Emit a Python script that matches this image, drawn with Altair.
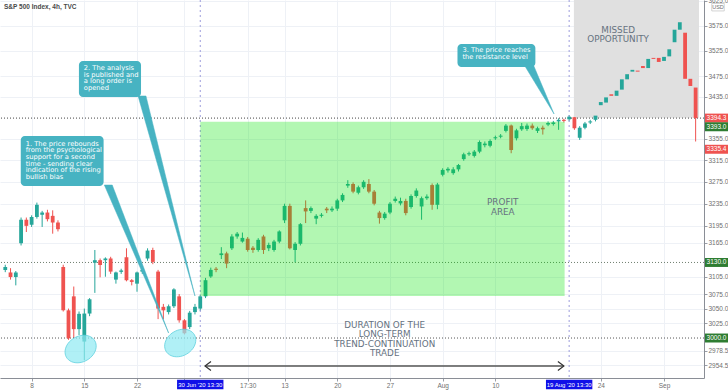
import math
import altair as alt
import pandas as pd

# ---------------- candle data (4h bars, bar index 0 = 8 Jun 13:30) ----------------
FIRST_BAR = -5
opens = [3117, 3112.5, 3104.5, 3164, 3206, 3197, 3211, 3215, 3219, 3213, 3201, 3122, 3047, 3071, 3015,
         2994, 3041.5, 3129.5, 3134, 3134, 3137, 3100, 3113.5, 3139, 3099, 3093, 3114, 3137, 3152,
         3114, 3053, 3044, 3054, 3071, 3030, 3018.5, 3044, 3050, 3071, 3105.5, 3119, 3143, 3146,
         3155, 3176, 3167, 3172, 3156, 3152, 3176, 3155, 3152, 3167, 3205, 3231, 3152, 3163, 3227,
         3222, 3208, 3213, 3226, 3223, 3226, 3241, 3268, 3271, 3255, 3265, 3271, 3257, 3219, 3209,
         3219, 3240, 3235.5, 3240, 3229, 3249, 3230, 3245, 3269, 3233, 3288, 3296, 3291, 3298, 3317,
         3326, 3323, 3331, 3343, 3342, 3356, 3359, 3370, 3380, 3356, 3373, 3373.5, 3380, 3370, 3376,
         3382, 3383, 3388, 3391, 3392, 3396, 3357, 3376, 3386, 3391, 3419, 3424, 3440, 3437, 3449,
         3469, 3484, 3486, 3495, 3491, 3511, 3511, 3505, 3514, 3542, 3567, 3561, 3470, 3453]
highs = [3126, 3120, 3115, 3210, 3210, 3214, 3237, 3222, 3224, 3223, 3205, 3126, 3050, 3088, 3045,
         3050, 3068, 3152, 3137, 3139, 3140, 3114, 3119, 3155, 3101, 3114, 3121, 3155, 3156,
         3117, 3058, 3057, 3085, 3075, 3032, 3046, 3058, 3074, 3103, 3121, 3122, 3157, 3149,
         3180, 3184, 3183, 3175, 3159, 3173, 3179, 3165, 3170, 3187, 3235, 3235, 3166, 3200, 3241,
         3230, 3216, 3218, 3229, 3230, 3244, 3254, 3278, 3274, 3268, 3278, 3280, 3260, 3222, 3220,
         3238, 3248, 3246, 3244, 3252, 3263, 3248, 3252, 3272, 3273, 3300, 3302, 3302, 3308, 3329,
         3331, 3334, 3352, 3350, 3354, 3361, 3364, 3383, 3382, 3374, 3385, 3384, 3384, 3378, 3380,
         3388, 3389, 3394, 3393, 3400, 3399, 3379, 3387, 3391, 3402, 3428, 3437, 3443, 3450, 3472,
         3482, 3497, 3490, 3499, 3512, 3514, 3514, 3516, 3531, 3570, 3588, 3566, 3472, 3482]
lows = [3113, 3100, 3090, 3160, 3184, 3193, 3208, 3193, 3203, 3181, 3185, 3045, 2997, 3000, 3005,
        2963, 3037, 3077, 3104, 3105, 3110, 3093, 3110, 3097, 3090, 3079, 3110, 3133, 3127,
        3032, 3032, 3040, 3051, 3026, 3006, 3015, 3040, 3046, 3068, 3103, 3113, 3136, 3120,
        3152, 3172, 3165, 3149, 3147, 3149, 3145, 3150, 3149, 3164, 3200, 3153, 3130, 3160, 3200,
        3218, 3198, 3210, 3218, 3220, 3222, 3238, 3264, 3254, 3252, 3262, 3254, 3232, 3199, 3206,
        3216, 3237, 3232, 3214, 3226, 3246, 3206, 3242, 3224, 3225, 3285, 3292, 3288, 3294, 3314,
        3323, 3320, 3328, 3339, 3339, 3353, 3356, 3367, 3328, 3352, 3370, 3370, 3372, 3366, 3363,
        3379, 3380, 3372, 3386, 3388, 3372, 3353, 3373, 3383, 3388, 3416, 3421, 3434, 3434, 3446,
        3466, 3467, 3480, 3487, 3488, 3505, 3499, 3497, 3511, 3538, 3564, 3447, 3430, 3350]
closes = [3122, 3104.5, 3112.5, 3206, 3195, 3211, 3233, 3219, 3207, 3201, 3189, 3047, 2999.5, 3015, 3041,
          3041.5, 3066, 3134, 3125.5, 3137, 3114, 3112.5, 3116, 3099, 3096, 3112.5, 3117, 3151, 3131,
          3050, 3047, 3054, 3083, 3030, 3008, 3043, 3053, 3071, 3099, 3117, 3117, 3146, 3128,
          3176, 3181, 3173.5, 3152, 3152, 3170, 3152, 3161, 3167, 3185, 3231, 3155, 3163, 3198, 3221,
          3227, 3213, 3215, 3223, 3226, 3241, 3251, 3271, 3257, 3265, 3275, 3257, 3235, 3209, 3217,
          3235, 3244, 3240, 3218, 3249, 3259, 3245, 3248, 3233, 3270, 3297, 3299, 3298, 3306, 3326,
          3328, 3331, 3349, 3346, 3351, 3358, 3361, 3380, 3334, 3371, 3379, 3380, 3375, 3375, 3373,
          3385, 3386, 3391, 3389, 3397, 3375, 3376, 3384, 3388, 3399, 3425, 3434, 3437, 3447, 3469,
          3479, 3487.5, 3484, 3491, 3509, 3509, 3503, 3513, 3528, 3567, 3582, 3470, 3456, 3394.3]

# ---------------- axes ----------------
x_tick_bars = [0, 10, 20, 29, 41, 48, 58, 68, 78, 88, 108, 120]
x_tick_labels = ["8", "15", "22", "17:30", "17:30", "13", "20", "27", "Aug", "10", "24", "Sep"]
y_tick_values = [2954.5, 2978.5, 3025, 3050, 3075, 3105, 3165, 3195, 3235, 3275,
                 3315, 3355, 3435, 3475, 3525, 3575, 3625]
x_domain = [-5.05, 126.64]
y_domain = [2933.4, 3627.0]

# ---------------- annotations (bar index / price anchored) ----------------
entry_bar, exit_bar = 32, 102
profit_bars = [32, 101.14]
profit_prices = [3071.6, 3387.3]
missed_bars = [102.9, 126.64]
missed_prices = [3395.0, 3627.0]
level_prices = [3394.3, 3130.0, 3000.0]
level_colors = ["#444444", "#6f7f6f", "#555555"]
ellipse_bars = [9.3, 28.2]
ellipse_prices = [2981.5, 2991.6]

callout_texts = [
    "1. The price rebounds\nfrom the psychological\nsupport for a second\ntime - sending clear\nindication of the rising\nbullish bias",
    "2. The analysis\nis published and\na long order is\nopened",
    "3. The price reaches\nthe resistance level",
]
callout_bar_left = [-2.06, 8.98, 80.81]
callout_bar_right = [13.66, 20.76, 95.59]
callout_price_top = [3360.3, 3504.9, 3538.5]
callout_price_bottom = [3267.3, 3434.7, 3493.1]
callout_text_bar = [-1.12, 9.91, 81.74]
callout_text_price = [3351.8, 3497.0, 3532.1]
# callout pointers: triangle corners (base left, base right, tip)
tail_id = [1, 1, 1, 2, 2, 2, 3, 3, 3]
tail_order = [0, 1, 2, 0, 1, 2, 0, 1, 2]
tail_bar = [13.8, 15.3, 26.0, 20.2, 21.7, 31.0, 93.6, 95.3, 99.14]
tail_price = [3269.1, 3269.1, 3008.4, 3436.7, 3436.7, 3071.6, 3495.0, 3495.0, 3402.1]

area_texts = ["MISSED", "OPPORTUNITY", "PROFIT", "AREA", "DURATION OF THE", "LONG-TERM",
              "TREND-CONTINUATION", "TRADE"]
area_text_bars = [111.3, 111.3, 89.4, 89.4, 67.0, 67.0, 67.0, 67.0]
area_text_prices = [3567.4, 3548.4, 3237.2, 3219.9, 3022.0, 3006.7, 2989.9, 2974.8]

arrow_bars = [32.9, 101.0]
arrow_price = 2953.2

price_label_values = [3394.3, 3335.4, 3130.0, 3000.0]
price_label_colors = ["#ef5350", "#ef5350", "#2e7d32", "#2e7d32"]
shifted_label_value = 3393.0
date_label_bars = [32, 102]
date_label_texts = ["30 Jun '20   13:30", "19 Aug '20   13:30"]

UP, DOWN = "#26a69a", "#ef5350"
CALLOUT = "#47b3c2"
AREA_TXT = "#66727f"

# ---------------- build ----------------
candles = pd.DataFrame({"bar": list(range(FIRST_BAR, FIRST_BAR + len(opens))),
                        "open": opens, "high": highs, "low": lows, "close": closes})

xs = alt.Scale(domain=x_domain, nice=False, zero=False)
ys = alt.Scale(type="log", domain=y_domain, nice=False, zero=False)

label_expr = " : ".join(f"datum.value == {b} ? '{l}'" for b, l in zip(x_tick_bars, x_tick_labels)) + " : ''"
x_axis = alt.Axis(values=x_tick_bars, labelExpr=label_expr, grid=True, gridColor="#eef1f6",
                  tickSize=3, tickColor="#9a9ea6", domainColor="#8a8e96", labelColor="#6f6f6f",
                  labelFontSize=6.5, labelFont="Liberation Sans", labelPadding=1, title=None,
                  labelOverlap=False, labelFlush=False)
y_axis = alt.Axis(orient="right", values=y_tick_values, format=".1f", grid=True, gridColor="#eef1f6",
                  tickSize=3, tickColor="#9a9ea6", domainColor="#8a8e96", labelColor="#6f6f6f",
                  labelFontSize=6.5, labelFont="Liberation Sans", labelPadding=1, title=None,
                  labelOverlap=False, labelFlush=False)

def X(field, **kw):
    return alt.X(field, scale=xs, axis=x_axis, **kw)

def Y(field, **kw):
    return alt.Y(field, scale=ys, axis=y_axis, **kw)

# missed opportunity background
missed_df = pd.DataFrame({"b1": [missed_bars[0]], "b2": [missed_bars[1]],
                          "p1": [missed_prices[0]], "p2": [missed_prices[1]]})
missed = alt.Chart(missed_df).mark_rect(color="#e0e0e0").encode(
    x=X("b1:Q"), x2="b2:Q", y=Y("p1:Q"), y2="p2:Q")

levels_df = pd.DataFrame({"price": level_prices, "c": level_colors})
levels = alt.Chart(levels_df).mark_rule(strokeDash=[1, 2], strokeWidth=1).encode(
    y=Y("price:Q"), color=alt.Color("c:N", scale=None))

vlines_df = pd.DataFrame({"bar": [entry_bar, exit_bar]})
vlines = alt.Chart(vlines_df).mark_rule(strokeDash=[2, 3], strokeWidth=1, color="#9c9cdc").encode(
    x=X("bar:Q"))

color_cond = alt.condition("datum.close >= datum.open", alt.value(UP), alt.value(DOWN))
wicks = alt.Chart(candles).mark_rule(strokeWidth=1).encode(
    x=X("bar:Q"), y=Y("low:Q"), y2="high:Q", color=color_cond)
bodies = alt.Chart(candles).mark_bar(size=3.8, orient="vertical").encode(
    x=X("bar:Q"), y=Y("open:Q"), y2="close:Q", color=color_cond)

profit_df = pd.DataFrame({"b1": [profit_bars[0]], "b2": [profit_bars[1]],
                          "p1": [profit_prices[0]], "p2": [profit_prices[1]]})
profit = alt.Chart(profit_df).mark_rect(color="#00e600", opacity=0.3).encode(
    x=X("b1:Q"), x2="b2:Q", y=Y("p1:Q"), y2="p2:Q")

# ellipse shape path (rotated)
pts = []
rot = math.radians(-30)
for k in range(48):
    t = 2 * math.pi * k / 48
    ex, ey = math.cos(t), 0.78 * math.sin(t)
    rx = ex * math.cos(rot) - ey * math.sin(rot)
    ry = ex * math.sin(rot) + ey * math.cos(rot)
    pts.append(f"{rx:.3f},{ry:.3f}")
ellipse_path = "M" + " L".join(pts) + " Z"
ell_df = pd.DataFrame({"bar": ellipse_bars, "price": ellipse_prices})
ellipses = alt.Chart(ell_df).mark_point(shape=ellipse_path, size=1076, filled=True, fill="#8fe9f2",
                                        fillOpacity=0.7, stroke="#5fd0de", strokeWidth=0.8).encode(
    x=X("bar:Q"), y=Y("price:Q"))

area_df = pd.DataFrame({"t": area_texts, "bar": area_text_bars, "price": area_text_prices})
area_text = alt.Chart(area_df).mark_text(font="DejaVu Sans", fontSize=8.8, color=AREA_TXT,
                                         align="center", baseline="middle").encode(
    x=X("bar:Q"), y=Y("price:Q"), text="t:N")

tails_df = pd.DataFrame({"id": tail_id, "k": tail_order, "bar": tail_bar, "price": tail_price})
tails = alt.Chart(tails_df).mark_line(interpolate="linear-closed", fill=CALLOUT, stroke=CALLOUT,
                                      strokeWidth=0.5).encode(
    x=X("bar:Q"), y=Y("price:Q"), order="k:Q", detail="id:N")

box_df = pd.DataFrame({"b1": callout_bar_left, "b2": callout_bar_right,
                       "p1": callout_price_bottom, "p2": callout_price_top})
boxes = alt.Chart(box_df).mark_rect(color=CALLOUT, cornerRadius=4).encode(
    x=X("b1:Q"), x2="b2:Q", y=Y("p1:Q"), y2="p2:Q")

ctext_df = pd.DataFrame({"t": callout_texts, "bar": callout_text_bar, "price": callout_text_price})
ctext = alt.Chart(ctext_df).mark_text(font="DejaVu Sans", fontSize=6.7, lineHeight=6.67, lineBreak="\n",
                                      color="white", align="left", baseline="top").encode(
    x=X("bar:Q"), y=Y("price:Q"), text="t:N")

arrow_df = pd.DataFrame({"b1": [arrow_bars[0]], "b2": [arrow_bars[1]], "price": [arrow_price]})
arrow_line = alt.Chart(arrow_df).mark_rule(color="#555555", strokeWidth=1.5).encode(
    x=X("b1:Q"), x2="b2:Q", y=Y("price:Q"))
head_l = alt.Chart(arrow_df).mark_point(shape="M1.33,-1 L0,0 L1.33,1", size=81, filled=False,
                                        color="#333333", strokeWidth=1.2, opacity=1).encode(
    x=X("b1:Q"), y=Y("price:Q"))
head_r = alt.Chart(arrow_df).mark_point(shape="M-1.33,-1 L0,0 L-1.33,1", size=81, filled=False,
                                        color="#333333", strokeWidth=1.2, opacity=1).encode(
    x=X("b2:Q"), y=Y("price:Q"))

# right-hand price labels
box_path = "M-1,-0.39 L1,-0.39 L1,0.39 L-1,0.39 Z"
pl_df = pd.DataFrame({"price": price_label_values, "c": price_label_colors,
                      "t": [f"{v:.1f}" for v in price_label_values]})
pl_box = alt.Chart(pl_df).mark_point(shape=box_path, size=529, filled=True, opacity=1).encode(
    x=alt.value(716.5), y=Y("price:Q"), color=alt.Color("c:N", scale=None))
pl_txt = alt.Chart(pl_df).mark_text(font="Liberation Sans", fontSize=6.5, color="white",
                                    align="center", baseline="middle").encode(
    x=alt.value(716.5), y=Y("price:Q"), text="t:N")
sh_df = pd.DataFrame({"price": [shifted_label_value], "t": [f"{shifted_label_value:.1f}"]})
sh_box = alt.Chart(sh_df).mark_point(shape=box_path, size=529, filled=True, opacity=1,
                                     color="#2e7d32", yOffset=8).encode(
    x=alt.value(716.5), y=Y("price:Q"))
sh_txt = alt.Chart(sh_df).mark_text(font="Liberation Sans", fontSize=6.5, color="white",
                                    align="center", baseline="middle", yOffset=8).encode(
    x=alt.value(716.5), y=Y("price:Q"), text="t:N")

# date labels under the time axis
dl_df = pd.DataFrame({"bar": date_label_bars, "t": date_label_texts})
dl_box = alt.Chart(dl_df).mark_point(shape="M-1,-0.2 L1,-0.2 L1,0.2 L-1,0.2 Z", size=2150,
                                     filled=True, opacity=1, color="#1010e8").encode(
    x=X("bar:Q"), y=alt.value(384.5))
dl_txt = alt.Chart(dl_df).mark_text(font="Liberation Sans", fontSize=6, color="white",
                                    align="center", baseline="middle").encode(
    x=X("bar:Q"), y=alt.value(384.8), text="t:N")

title_df = pd.DataFrame({"t": ["S&P 500 Index, 4h, TVC"]})
title = alt.Chart(title_df).mark_text(font="Liberation Sans", fontSize=6.5, fontWeight="bold",
                                      color="#4a4a4a", align="left", baseline="middle").encode(
    x=alt.value(4), y=alt.value(7.2), text="t:N")
usd_df = pd.DataFrame({"t": ["USD"]})
usd_box = alt.Chart(usd_df).mark_point(shape="M-1,-0.6 L1,-0.6 L1,0.6 L-1,0.6 Z", size=156,
                                       filled=False, color="#c8c8c8", strokeWidth=0.8, opacity=1).encode(
    x=alt.value(718), y=alt.value(7.2))
usd_txt = alt.Chart(usd_df).mark_text(font="Liberation Sans", fontSize=5.5, color="#6f6f6f",
                                      align="center", baseline="middle").encode(
    x=alt.value(718), y=alt.value(7.4), text="t:N")

chart = alt.layer(
    wicks, missed, levels, vlines, bodies, profit, ellipses, area_text,
    tails, boxes, ctext, arrow_line, head_l, head_r,
    pl_box, pl_txt, sh_box, sh_txt, dl_box, dl_txt, title, usd_box, usd_txt,
).properties(
    width=704, height=378,
    padding={"left": 0, "top": 0, "right": 24, "bottom": 13},
    autosize="none", background="white",
).configure_view(stroke=None)

chart.save("out.html", embed_options={"renderer": "svg", "actions": False})
